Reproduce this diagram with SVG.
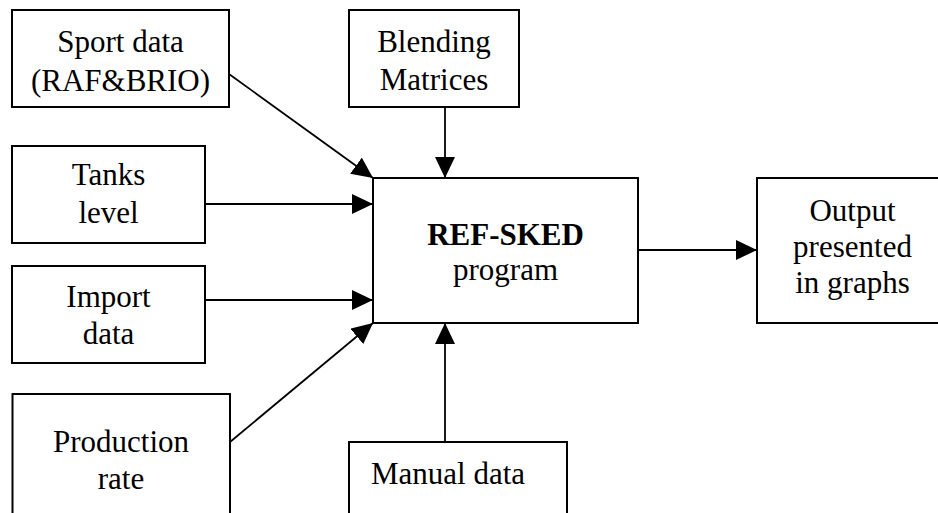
<svg xmlns="http://www.w3.org/2000/svg" width="938" height="513" viewBox="0 0 938 513">
  <style>
    .box { fill: #ffffff; stroke: #000000; stroke-width: 2; }
    .lbl { font-family: "Liberation Serif", "Times New Roman", serif; font-size: 31px; fill: #000000; text-anchor: middle; }
    .bold { font-weight: bold; }
    .edge { fill: none; stroke: #000000; stroke-width: 1.8; marker-end: url(#head); }
  </style>
  <defs>
    <marker id="head" markerUnits="userSpaceOnUse" markerWidth="22" markerHeight="20" refX="21" refY="10" orient="auto">
      <path d="M0,0 L21,10 L0,20 Z" fill="#000000"/>
    </marker>
  </defs>
  <rect width="938" height="513" fill="#ffffff"/>

  <g id="connectors">
    <line class="edge" x1="229" y1="74" x2="373" y2="178"/>
    <line class="edge" x1="445" y1="107" x2="445" y2="178"/>
    <line class="edge" x1="205" y1="204" x2="373" y2="204"/>
    <line class="edge" x1="205" y1="300" x2="373" y2="300"/>
    <line class="edge" x1="230" y1="442" x2="373" y2="323"/>
    <line class="edge" x1="445" y1="442" x2="445" y2="323"/>
    <line class="edge" x1="638" y1="250" x2="757" y2="250"/>
  </g>

  <g id="sport-data">
    <rect class="box" x="12" y="10" width="217" height="97"/>
    <text class="lbl" x="120.5" y="52">Sport data</text>
    <text class="lbl" x="120.5" y="91">(RAF&amp;BRIO)</text>
  </g>

  <g id="blending-matrices">
    <rect class="box" x="349" y="10" width="170" height="97"/>
    <text class="lbl" x="434" y="52">Blending</text>
    <text class="lbl" x="434" y="90">Matrices</text>
  </g>

  <g id="tanks-level">
    <rect class="box" x="12" y="146" width="193" height="97"/>
    <text class="lbl" x="108.5" y="185">Tanks</text>
    <text class="lbl" x="108.5" y="223">level</text>
  </g>

  <g id="import-data">
    <rect class="box" x="12" y="266" width="193" height="97"/>
    <text class="lbl" x="108.5" y="307">Import</text>
    <text class="lbl" x="108.5" y="344">data</text>
  </g>

  <g id="production-rate">
    <rect class="box" x="12.5" y="394" width="217.5" height="130"/>
    <text class="lbl" x="121" y="452">Production</text>
    <text class="lbl" x="121" y="489">rate</text>
  </g>

  <g id="ref-sked">
    <rect class="box" x="373" y="178" width="265" height="145"/>
    <text class="lbl bold" x="505.5" y="245">REF-SKED</text>
    <text class="lbl" x="505.5" y="280">program</text>
  </g>

  <g id="output">
    <rect class="box" x="757" y="178" width="200" height="145"/>
    <text class="lbl" x="852.5" y="221">Output</text>
    <text class="lbl" x="852.5" y="257">presented</text>
    <text class="lbl" x="852.5" y="293">in graphs</text>
  </g>

  <g id="manual-data">
    <rect class="box" x="349" y="442" width="218" height="90"/>
    <text class="lbl" x="448" y="484">Manual data</text>
  </g>
</svg>
